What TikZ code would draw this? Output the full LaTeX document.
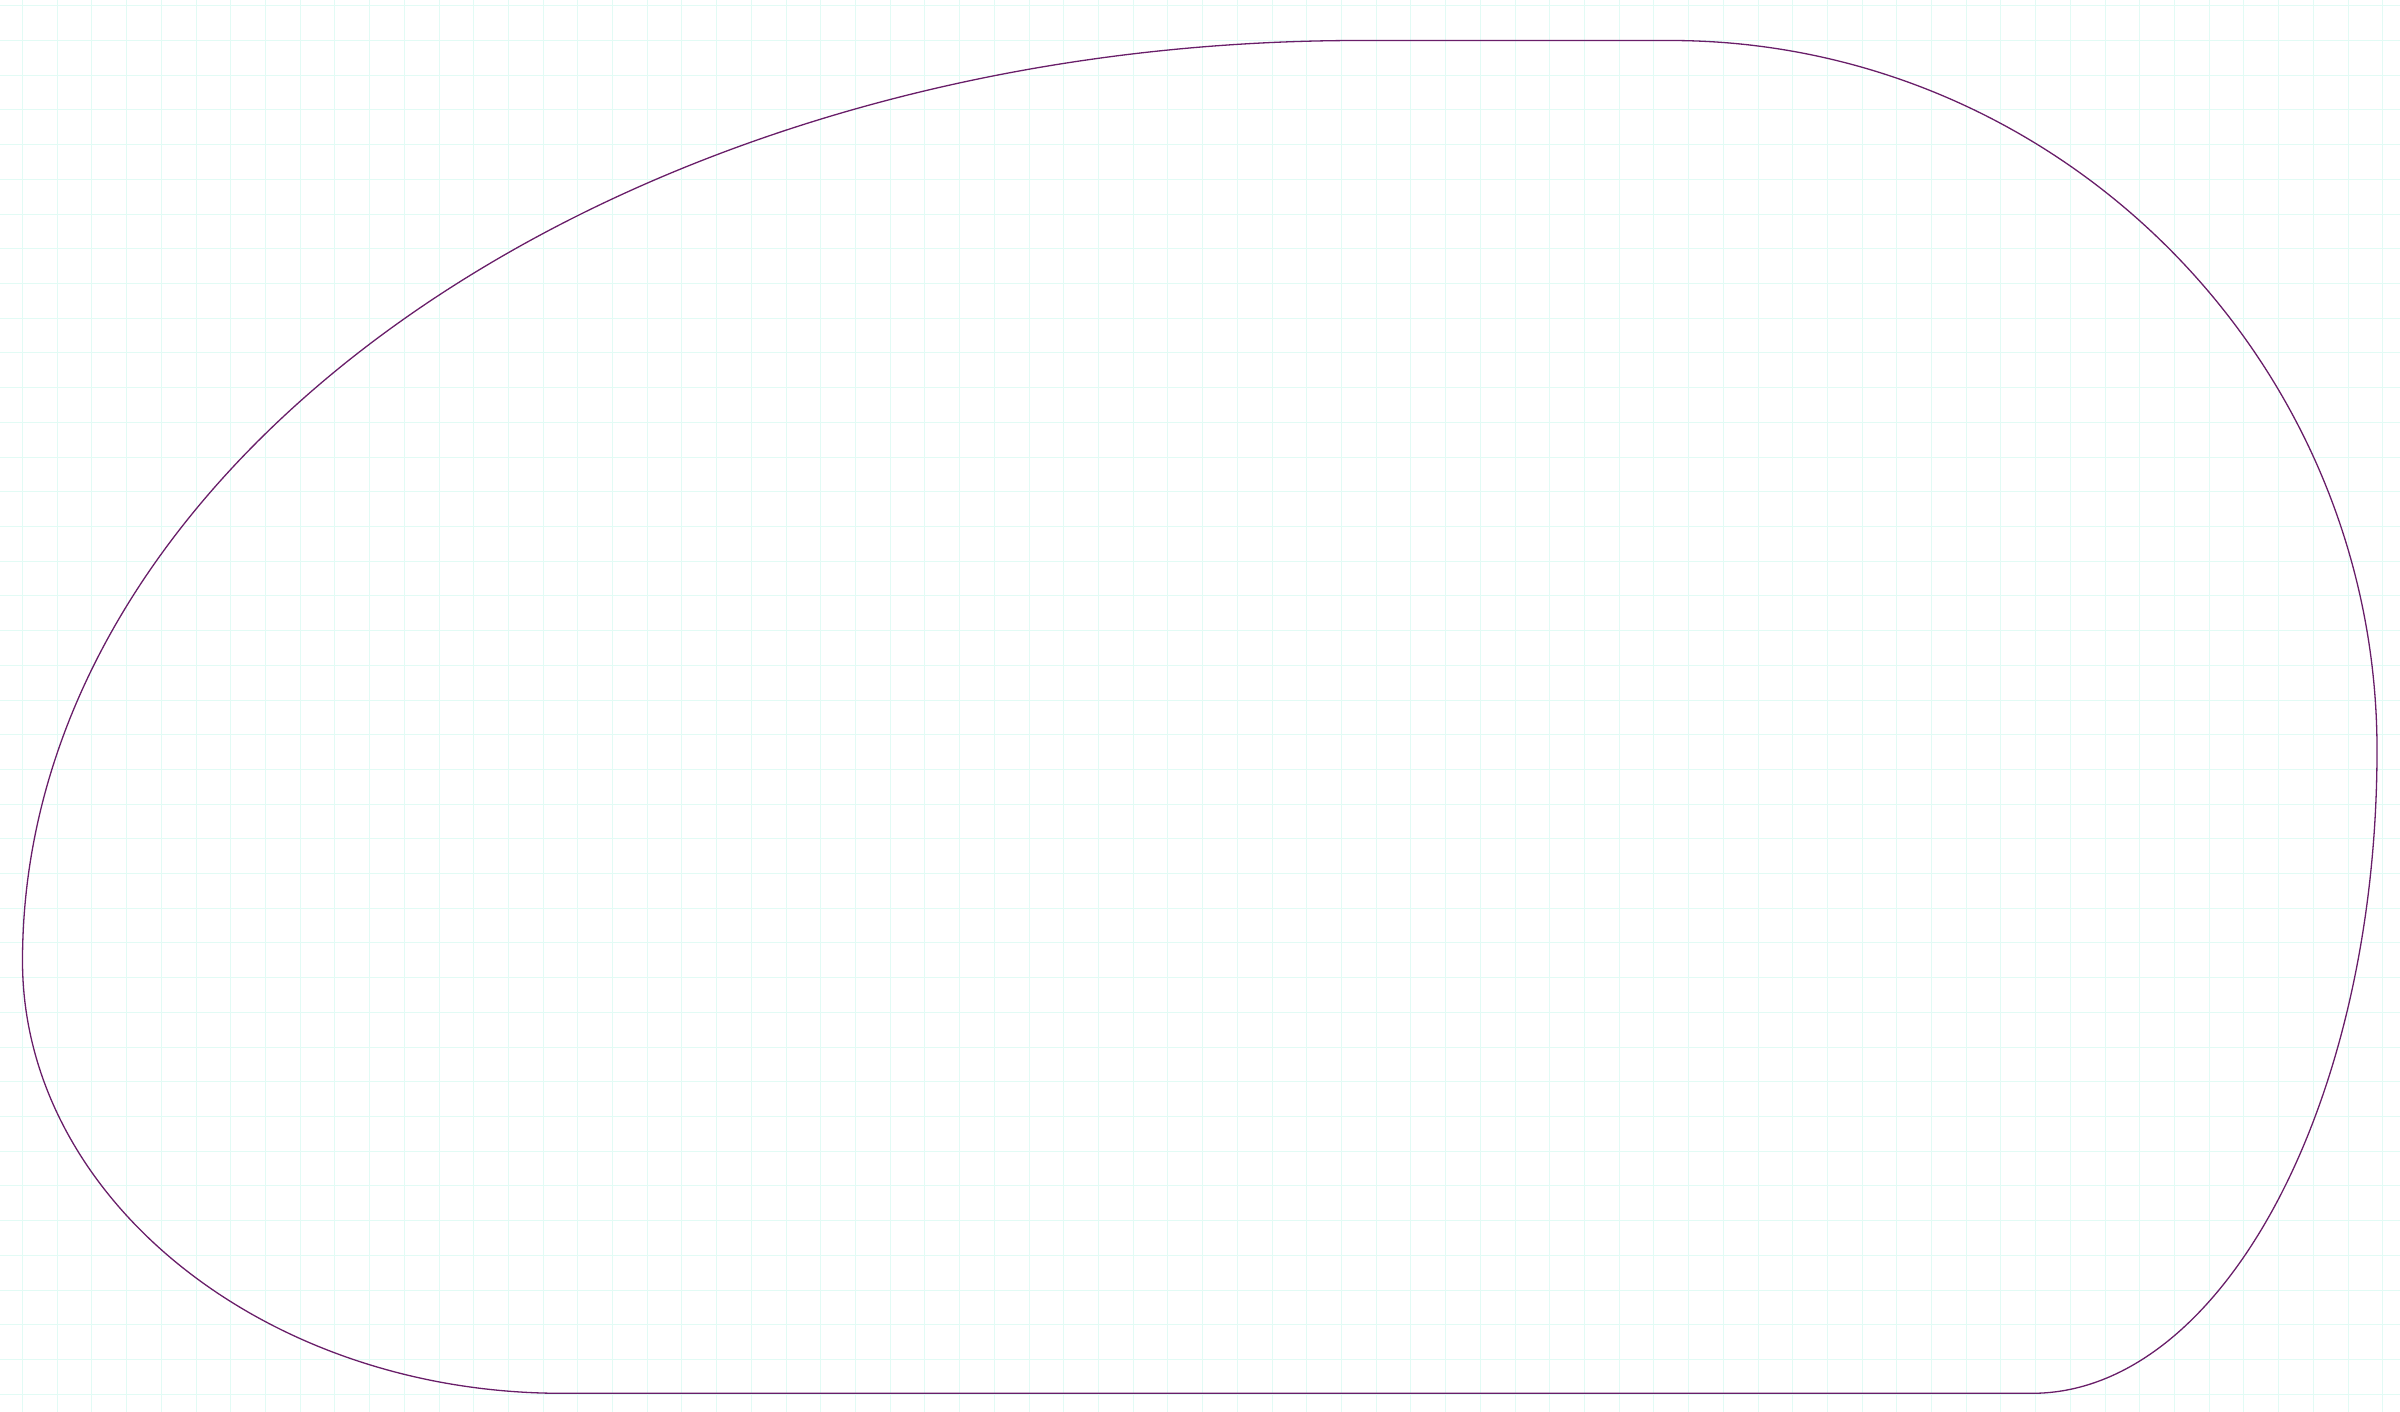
\documentclass[tikz,border=0pt]{standalone}
\usepackage{tikz}
\definecolor{gridc}{RGB}{226,251,245}
\definecolor{blobc}{RGB}{105,30,105}
\tikzset{
  gridline/.style={draw=gridc, line width=1.4pt},
  blob/.style={draw=blobc, line width=1.3pt, line join=round}
}
\begin{document}
\begin{tikzpicture}[x=1pt,y=-1pt]
  \useasboundingbox (0,0) rectangle (2400,1412);
  \fill[white] (0,0) rectangle (2400,1412);
  % background grid
  \foreach \n in {-1,...,69} {
    \pgfmathsetmacro{\gx}{round(22+\n*34.71)+0.5}
    \draw[gridline] (\gx,0) -- (\gx,1412);
  }
  \foreach \n in {0,...,40} {
    \pgfmathsetmacro{\gy}{round(5.3+\n*34.71)+0.5}
    \draw[gridline] (0,\gy) -- (2400,\gy);
  }
  % outline
  \coordinate (topL) at (1360,40.5);
  \coordinate (topR) at (1670,40.5);
  \coordinate (rgt) at (2377,750);
  \coordinate (botR) at (2032,1393.3);
  \coordinate (botL) at (562,1393.3);
  \coordinate (lft) at (22.5,961);
  \draw[blob] (topL) -- (topR)
    .. controls (2058.9,40.5) and (2377,359.8) .. (rgt)
    .. controls (2377,1103.7) and (2221.8,1393.3) .. (botR)
    -- (botL)
    .. controls (265.3,1393.3) and (22.5,1198.8) .. (lft)
    .. controls (22.5,455) and (624.4,40.5) .. (topL)
    -- cycle;
\end{tikzpicture}
\end{document}
